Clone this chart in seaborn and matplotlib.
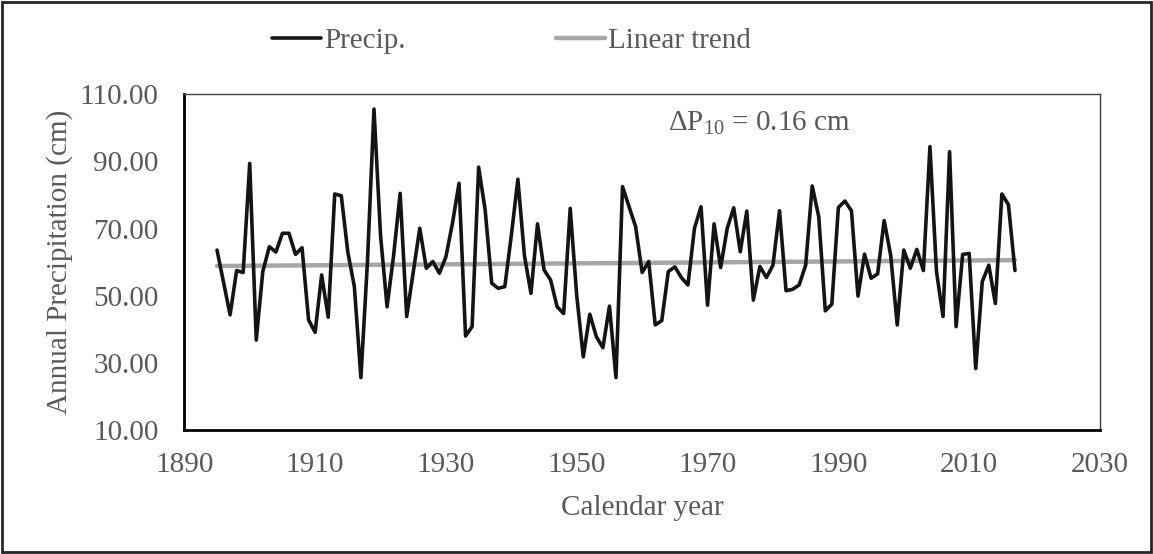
import numpy as np
import pandas as pd
import matplotlib
matplotlib.use("Agg")
import matplotlib.pyplot as plt
import seaborn as sns
from matplotlib.patches import Rectangle
from matplotlib.ticker import MultipleLocator, FormatStrFormatter

# ---------------- data ----------------
years = list(range(1895, 2018))
precip = [
    63.6, 54.0, 44.3, 57.5, 56.9, 89.4, 36.8, 57.2, 64.6, 63.0,   # 1895-1904
    68.6, 68.6, 62.3, 64.3, 42.8, 39.1, 56.2, 43.6, 80.3, 79.8,   # 1905-1914
    63.0, 52.7, 25.6, 60.0, 105.6, 68.0, 46.7, 62.0, 80.5, 43.8,  # 1915-1924
    57.0, 70.1, 58.2, 60.2, 56.7, 61.6, 71.6, 83.5, 38.0, 40.8,   # 1925-1934
    88.3, 75.5, 53.7, 52.2, 52.7, 68.0, 84.7, 62.0, 50.7, 71.4,   # 1935-1944
    57.7, 54.7, 46.7, 44.7, 76.0, 50.0, 31.8, 44.5, 37.8, 34.5,   # 1945-1954
    46.9, 25.6, 82.5, 76.5, 70.6, 56.9, 60.2, 41.3, 42.6, 57.2,   # 1955-1964
    58.6, 55.4, 53.2, 70.1, 76.5, 47.2, 71.4, 58.4, 70.0, 76.2,   # 1965-1974
    63.1, 75.2, 48.7, 58.7, 55.4, 59.1, 75.3, 51.5, 51.9, 53.2,   # 1975-1984
    59.1, 82.7, 73.5, 45.5, 47.5, 76.3, 78.2, 75.3, 49.9, 62.4,   # 1985-1994
    55.2, 56.5, 72.4, 62.0, 41.3, 63.6, 58.2, 63.8, 57.5, 94.4,   # 1995-2004
    57.2, 43.8, 92.9, 40.8, 62.3, 62.6, 28.3, 54.2, 59.1, 47.7,   # 2005-2014
    80.3, 77.1, 57.5,                                             # 2015-2017
]
trend_years = [1895, 2017]
trend_values = [58.85, 60.6]

x_ticks = [1890, 1910, 1930, 1950, 1970, 1990, 2010, 2030]
y_ticks = [10, 30, 50, 70, 90, 110]

df = pd.DataFrame({"year": years, "precip": precip})
tdf = pd.DataFrame({"year": trend_years, "trend": trend_values})

# ---------------- style ----------------
sns.set_theme(style="white")
plt.rcParams["font.family"] = ["Liberation Serif", "DejaVu Serif"]
plt.rcParams["mathtext.default"] = "regular"
GRAY_TXT = "#595959"
FS = 21

fig = plt.figure(figsize=(11.53, 5.54), dpi=100)
ax = fig.add_axes([184.3 / 1153, 1 - 430 / 554, (1100 - 184.3) / 1153, (430 - 94.3) / 554])

sns.lineplot(data=tdf, x="year", y="trend", ax=ax, color="#A6A6A6", linewidth=3.2,
             label="Linear trend", zorder=2)
sns.lineplot(data=df, x="year", y="precip", ax=ax, color="#141414", linewidth=2.6,
             label="Precip.", zorder=3)

ax.set_xlim(1890, 2030)
ax.set_ylim(10, 110)
ax.set_xticks(x_ticks)
ax.xaxis.set_minor_locator(MultipleLocator(5))
ax.set_yticks(y_ticks)
ax.yaxis.set_minor_locator(MultipleLocator(10))
ax.yaxis.set_major_formatter(FormatStrFormatter("%.2f"))

ax.tick_params(axis="both", which="major", direction="out", width=1.6,
               color="black", labelsize=FS, labelcolor=GRAY_TXT)
ax.tick_params(axis="y", which="major", length=7.5, pad=11)
ax.tick_params(axis="x", which="major", length=6, pad=10)
ax.tick_params(axis="y", which="minor", direction="out", length=5, width=1.6, color="black")
ax.tick_params(axis="x", which="minor", direction="out", length=4.3, width=1.6, color="black")

for s in ["left", "bottom"]:
    ax.spines[s].set_color("black")
    ax.spines[s].set_linewidth(2.0)
for s in ["top", "right"]:
    ax.spines[s].set_color("#404040")
    ax.spines[s].set_linewidth(1.0)

ax.set_xlabel("Calendar year", fontsize=FS, color=GRAY_TXT, labelpad=12)
ax.set_ylabel("Annual Precipitation (cm)", fontsize=FS, color=GRAY_TXT, labelpad=5)

ax.text(1964.0, 99.1, r"ΔP$_{10}$ = 0.16 cm", fontsize=FS, color=GRAY_TXT,
        ha="left", va="baseline")

# legend (Precip. first)
handles, labels = ax.get_legend_handles_labels()
order = [labels.index("Precip."), labels.index("Linear trend")]
ax.legend([handles[i] for i in order], [labels[i] for i in order],
          loc="center left", bbox_to_anchor=(272 / 1153, 1 - 41 / 554),
          bbox_transform=fig.transFigure, ncol=2, frameon=False,
          fontsize=FS, labelcolor=GRAY_TXT, handlelength=1.68, handletextpad=0.1,
          columnspacing=5.15, borderpad=0, borderaxespad=0)

# chart-area border
fig.add_artist(Rectangle((0.002, 0.003), 0.996, 0.994, transform=fig.transFigure,
                         fill=False, edgecolor="#262626", linewidth=2.0))

fig.savefig("out.png", dpi=100)
